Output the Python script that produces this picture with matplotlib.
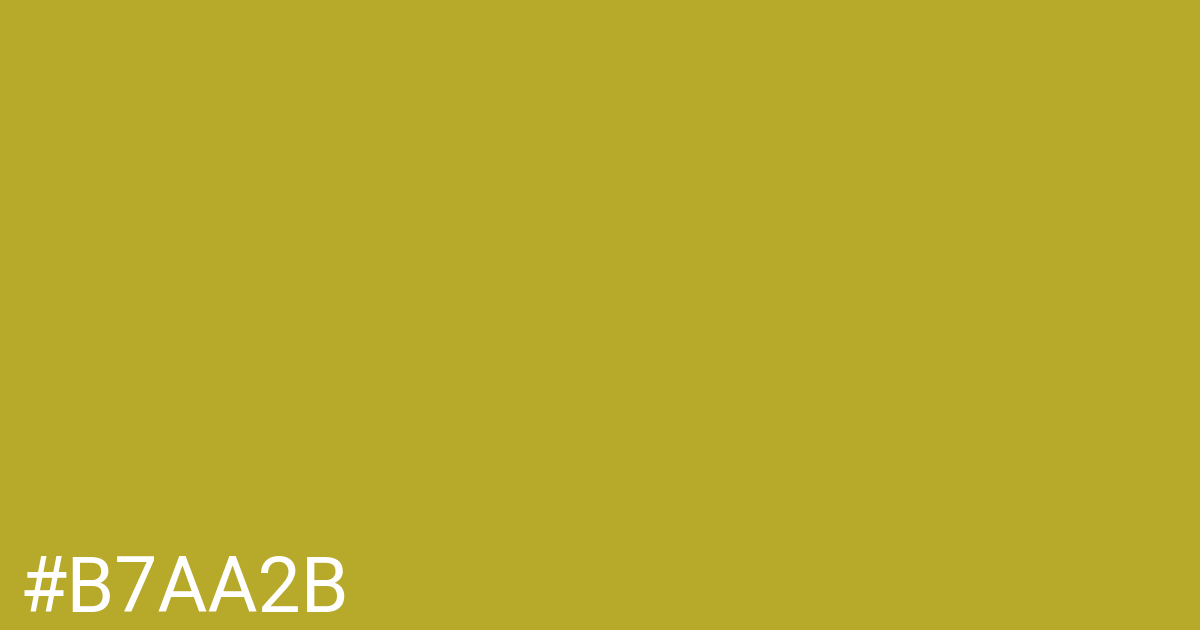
import matplotlib
matplotlib.use('Agg')
from matplotlib import pyplot as plt

swatch_color = '#B7AA2B'
label = '#B7AA2B'
text_color = 'white'

fig = plt.figure(figsize=(12, 6.3), dpi=100)
fig.patch.set_facecolor(swatch_color)

# label at bottom-left, baseline ~612px from top
fig.text(19 / 1200, 1 - 612 / 630, label, color=text_color,
         fontsize=55.3, family='Roboto', ha='left', va='baseline')

fig.savefig('out.png', dpi=100, facecolor=swatch_color)
